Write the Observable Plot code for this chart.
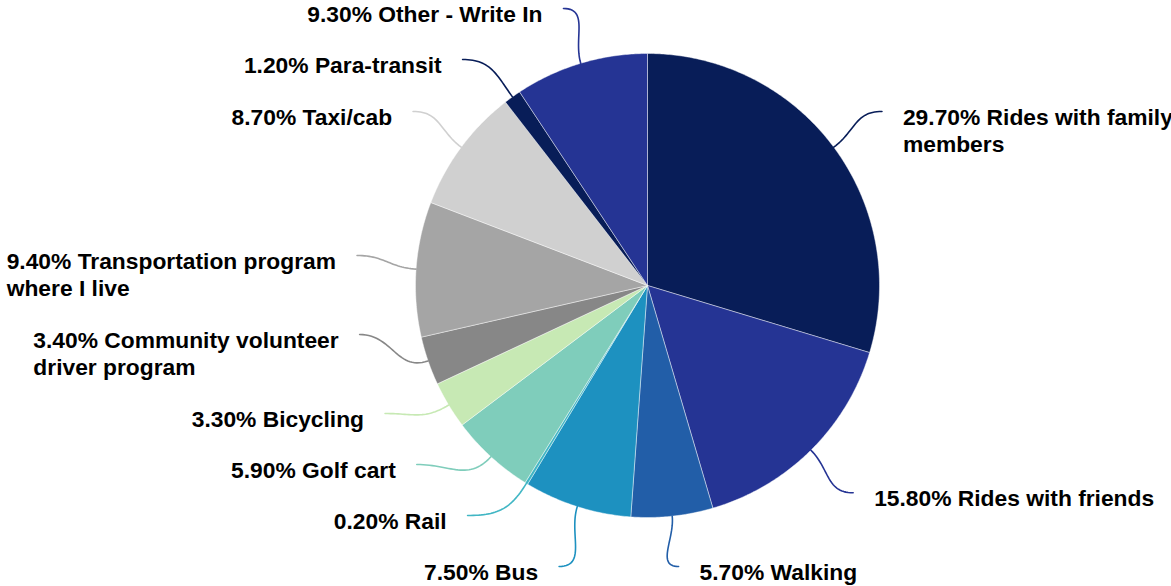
<!DOCTYPE html>
<html>
<head>
<meta charset="utf-8">
<script src="https://cdn.jsdelivr.net/npm/d3@7"></script>
<script src="https://cdn.jsdelivr.net/npm/@observablehq/plot@0.6"></script>
<style>
  html, body { margin: 0; padding: 0; background: #fff; }
  #chart svg { display: block; }
</style>
</head>
<body>
<div id="chart"></div>
<script>
// ---- Data ----
const categories = [
  "Rides with family\nmembers",
  "Rides with friends",
  "Walking",
  "Bus",
  "Rail",
  "Golf cart",
  "Bicycling",
  "Community volunteer\ndriver program",
  "Transportation program\nwhere I live",
  "Taxi/cab",
  "Para-transit",
  "Other - Write In"
];
const values = [29.7, 15.8, 5.7, 7.5, 0.2, 5.9, 3.3, 3.4, 9.4, 8.7, 1.2, 9.3];
const colors = ["#081d58", "#253494", "#225ea8", "#1d91c0", "#41b6c4", "#7fcdbb",
                "#c7e9b4", "#878787", "#a5a5a5", "#d0d0d0", "#081d58", "#253494"];

// ---- Layout constants (pixels) ----
const W = 1171, H = 586;
const CX = 647, CY = 285, RAD = 232;   // pie centre and radius
const LABEL_R = 292;                   // radius on which leader lines end
const LINE_H = 28, BOX_GAP = 23;       // label box line height and spacing
const TOP = 8, BOT = 566;              // vertical bounds for leader ends
const FONT = 22.8;
const FAMILY = "'Liberation Sans', Arial, Helvetica, sans-serif";

const toUx = px => (px - CX) / RAD;
const toUy = py => (CY - py) / RAD;

const ctx = document.createElement("canvas").getContext("2d");
ctx.font = `bold ${FONT}px ${FAMILY}`;
const textWidth = s => Math.max(...s.split("\n").map(l => ctx.measureText(l).width));

// ---- Slices ----
const arcs = d3.pie().sort(null).value(d => d)(values);
const slicePts = [];
arcs.forEach((a, i) => {
  const n = Math.max(2, Math.ceil((a.endAngle - a.startAngle) / (Math.PI / 360)));
  slicePts.push({i, x: 0, y: 0});
  for (let k = 0; k <= n; k++) {
    const t = a.startAngle + (a.endAngle - a.startAngle) * k / n;
    slicePts.push({i, x: Math.sin(t), y: Math.cos(t)});
  }
  slicePts.push({i, x: 0, y: 0});
});

// ---- Label placement (collision avoidance per side) ----
const labels = arcs.map((a, i) => {
  const mid = (a.startAngle + a.endAngle) / 2;
  const side = Math.sin(mid) >= 0 ? 1 : -1;
  const lines = categories[i].split("\n").length;
  return {
    i, mid, side, lines,
    nx: CX + LABEL_R * Math.sin(mid),
    ny: CY - LABEL_R * Math.cos(mid),
    text: values[i].toFixed(2) + "% " + categories[i]
  };
});
for (const s of [-1, 1]) {
  const g = labels.filter(d => d.side === s).sort((a, b) => a.ny - b.ny);
  g.forEach(d => d.y = Math.min(BOT, Math.max(TOP, d.ny)));
  const gap = d => d.lines * LINE_H + BOX_GAP;
  for (let k = 1; k < g.length; k++) g[k].y = Math.max(g[k].y, g[k - 1].y + gap(g[k - 1]));
  if (g.length) g[g.length - 1].y = Math.min(g[g.length - 1].y, BOT);
  for (let k = g.length - 2; k >= 0; k--) g[k].y = Math.min(g[k].y, g[k + 1].y - gap(g[k]));
  g.forEach(d => {
    if (d.y === BOT || d.y === TOP || Math.abs(d.y - d.ny) < 1.5) d.x = d.nx;
    else {
      const dy = d.y - CY;
      d.x = CX + s * Math.sqrt(Math.max(0, LABEL_R * LABEL_R - dy * dy));
    }
  });
}

// ---- Leader lines (cubic Bezier, sampled) ----
const leaderPts = [];
labels.forEach(d => {
  const ux = Math.sin(d.mid), uy = -Math.cos(d.mid);
  const p0 = [CX + RAD * ux, CY + RAD * uy];
  const p3 = [d.x, d.y];
  const dist = Math.hypot(p3[0] - p0[0], p3[1] - p0[1]);
  const h = dist * 0.45;
  const p1 = [p0[0] + ux * h, p0[1] + uy * h];
  const p2 = [p3[0] - d.side * h, p3[1]];
  for (let k = 0; k <= 30; k++) {
    const t = k / 30, m = 1 - t;
    const px = m*m*m*p0[0] + 3*m*m*t*p1[0] + 3*m*t*t*p2[0] + t*t*t*p3[0];
    const py = m*m*m*p0[1] + 3*m*m*t*p1[1] + 3*m*t*t*p2[1] + t*t*t*p3[1];
    leaderPts.push({i: d.i, x: toUx(px), y: toUy(py)});
  }
});

// label blocks are left-aligned; left-side blocks end 21px before the leader end
const textPts = labels.map(d => {
  const w = textWidth(d.text);
  const left = d.side > 0 ? d.x + 21 : d.x - 21 - w;
  return {...d, tx: toUx(left), ty: toUy(d.y - 6)};
});

const chart = Plot.plot({
  width: W, height: H, margin: 0,
  x: {domain: [-CX / RAD, (W - CX) / RAD], axis: null},
  y: {domain: [-(H - CY) / RAD, CY / RAD], axis: null},
  color: {type: "identity"},
  style: {background: "white", overflow: "visible"},
  marks: [
    Plot.line(slicePts, {
      x: "x", y: "y", z: "i",
      fill: d => colors[d.i],
      stroke: "white", strokeWidth: 0.8, strokeOpacity: 0.55,
      curve: "linear"
    }),
    Plot.line(leaderPts, {
      x: "x", y: "y", z: "i",
      stroke: d => colors[d.i], strokeWidth: 1.6, curve: "linear"
    }),
    Plot.text(textPts, {
      x: "tx", y: "ty", text: "text",
      textAnchor: "start", lineAnchor: "top", lineHeight: 1.2,
      fontSize: FONT, fontWeight: "bold", fontFamily: FAMILY,
      fill: "#000"
    })
  ]
});
document.getElementById("chart").appendChild(chart);
</script>
</body>
</html>
